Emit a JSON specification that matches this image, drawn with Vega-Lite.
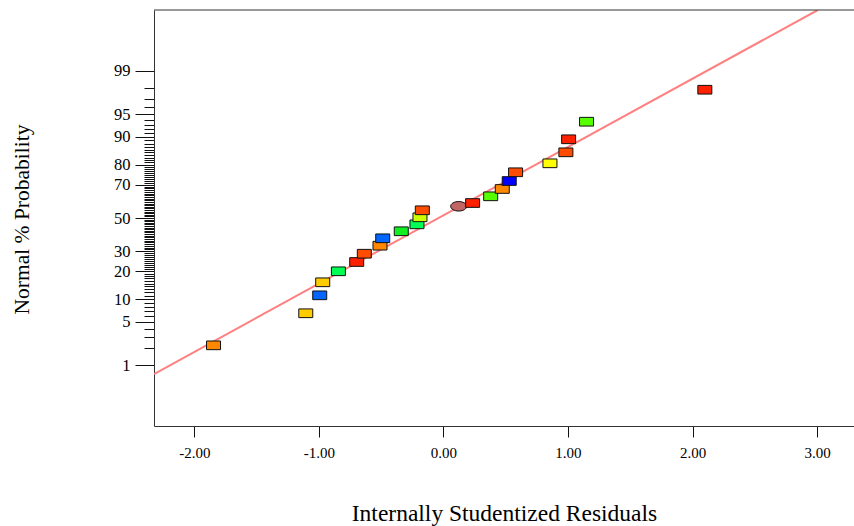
{
  "$schema": "https://vega.github.io/schema/vega-lite/v6.json",
  "width": 700,
  "height": 416,
  "autosize": {"type": "none"},
  "padding": {"left": 154, "top": 10, "right": 0, "bottom": 100},
  "background": "white",
  "config": {
    "view": {"stroke": null},
    "font": "Liberation Serif",
    "axis": {"grid": false, "labelFont": "Liberation Serif", "titleFont": "Liberation Serif", "labelColor": "#000", "titleColor": "#000", "titleFontWeight": "normal", "domainColor": "#333", "tickColor": "#111", "labelFlush": false, "labelOverlap": false, "labelBound": false}
  },
  "datasets": {
    "residuals": [
      {"run": 1, "residual": -1.847, "z": -2.014, "level": "orange"},
      {"run": 2, "residual": -1.106, "z": -1.507, "level": "gold"},
      {"run": 3, "residual": -0.994, "z": -1.223, "level": "blue"},
      {"run": 4, "residual": -0.970, "z": -1.017, "level": "gold"},
      {"run": 5, "residual": -0.844, "z": -0.843, "level": "green"},
      {"run": 6, "residual": -0.697, "z": -0.696, "level": "red"},
      {"run": 7, "residual": -0.636, "z": -0.565, "level": "red-orange"},
      {"run": 8, "residual": -0.510, "z": -0.438, "level": "orange"},
      {"run": 9, "residual": -0.488, "z": -0.321, "level": "blue"},
      {"run": 10, "residual": -0.339, "z": -0.210, "level": "green2"},
      {"run": 11, "residual": -0.213, "z": -0.100, "level": "green"},
      {"run": 12, "residual": -0.189, "z": 0.011, "level": "yellow-green"},
      {"run": 13, "residual": -0.170, "z": 0.122, "level": "red-orange"},
      {"run": 14, "residual": 0.122, "z": 0.185, "level": "highlight"},
      {"run": 15, "residual": 0.234, "z": 0.237, "level": "red"},
      {"run": 16, "residual": 0.379, "z": 0.343, "level": "lime"},
      {"run": 17, "residual": 0.472, "z": 0.459, "level": "orange"},
      {"run": 18, "residual": 0.528, "z": 0.585, "level": "darkblue"},
      {"run": 19, "residual": 0.579, "z": 0.723, "level": "red-orange"},
      {"run": 20, "residual": 0.855, "z": 0.865, "level": "yellow"},
      {"run": 21, "residual": 0.983, "z": 1.039, "level": "red-orange"},
      {"run": 22, "residual": 1.005, "z": 1.245, "level": "red"},
      {"run": 23, "residual": 1.149, "z": 1.523, "level": "lime"},
      {"run": 24, "residual": 2.099, "z": 2.029, "level": "red"}
    ],
    "fit": [
      {"xa": -2.325, "za": -2.468, "xb": 3.006, "zb": 3.29}
    ],
    "frame": [
      {"top": 3.29}
    ]
  },
  "layer": [
    {
      "data": {"name": "fit"},
      "mark": {"type": "rule", "color": "#ff8080", "strokeWidth": 2, "clip": true},
      "encoding": {
        "x": {"field": "xa", "type": "quantitative", "scale": {"domain": [-2.325, 3.297], "nice": false, "zero": false},
          "axis": {"values": [-2, -1, 0, 1, 2, 3], "tickCount": 500, "labelExpr": "replace(format(datum.value, '.2f'), '\u2212', '-')", "labelFontSize": 15, "tickSize": 11, "labelPadding": 8, "title": "Internally Studentized Residuals", "titleFontSize": 23.5, "titleBaseline": "alphabetic", "titleY": 94}},
        "y": {"field": "za", "type": "quantitative", "scale": {"domain": [-3.29, 3.29], "nice": false, "zero": false},
          "axis": {
            "values": [-2.3263, -2.0537, -1.8808, -1.7507, -1.6449, -1.5548, -1.4758, -1.4051, -1.3408, -1.2816, -1.2265, -1.175, -1.1264, -1.0803, -1.0364, -0.9945, -0.9542, -0.9154, -0.8779, -0.8416, -0.8064, -0.7722, -0.7388, -0.7063, -0.6745, -0.6433, -0.6128, -0.5828, -0.5534, -0.5244, -0.4959, -0.4677, -0.4399, -0.4125, -0.3853, -0.3585, -0.3319, -0.3055, -0.2793, -0.2533, -0.2275, -0.2019, -0.1764, -0.151, -0.1257, -0.1004, -0.0753, -0.0502, -0.0251, 0, 0.0251, 0.0502, 0.0753, 0.1004, 0.1257, 0.151, 0.1764, 0.2019, 0.2275, 0.2533, 0.2793, 0.3055, 0.3319, 0.3585, 0.3853, 0.4125, 0.4399, 0.4677, 0.4959, 0.5244, 0.5534, 0.5828, 0.6128, 0.6433, 0.6745, 0.7063, 0.7388, 0.7722, 0.8064, 0.8416, 0.8779, 0.9154, 0.9542, 0.9945, 1.0364, 1.0803, 1.1264, 1.175, 1.2265, 1.2816, 1.3408, 1.4051, 1.4758, 1.5548, 1.6449, 1.7507, 1.8808, 2.0537, 2.3263],
            "tickCount": 500,
            "labelExpr": "indexof([1,5,10,20,30,50,70,80,90,95,99], round(100*cumulativeNormal(datum.value))) >= 0 ? '' + round(100*cumulativeNormal(datum.value)) : ''",
            "tickSize": {"condition": {"test": "indexof([1,5,10,20,30,50,70,80,90,95,99], round(100*cumulativeNormal(datum.value))) >= 0", "value": 19}, "value": 10},
            "labelFontSize": 16.5,
            "labelPadding": 5,
            "title": "Normal % Probability",
            "titleFontSize": 21.5,
            "titleAngle": 270,
            "titleAlign": "center",
            "titleBaseline": "middle",
            "titleX": -132,
            "titleY": 209
          }},
        "x2": {"field": "xb"},
        "y2": {"field": "zb"}
      }
    },
    {
      "data": {"name": "residuals"},
      "mark": {"type": "point", "filled": true, "opacity": 1, "stroke": "#111", "strokeWidth": 1, "size": 196},
      "encoding": {
        "x": {"field": "residual", "type": "quantitative"},
        "y": {"field": "z", "type": "quantitative"},
        "color": {"field": "level", "type": "nominal", "legend": null,
          "scale": {"domain": ["red", "red-orange", "orange", "gold", "yellow", "yellow-green", "lime", "green", "green2", "blue", "darkblue", "highlight"],
                    "range": ["#ff2000", "#ff4c00", "#ff8800", "#ffcc00", "#ffff00", "#ccff00", "#55ff00", "#00ff55", "#11ee22", "#0066ff", "#0000ff", "#c06464"]}},
        "shape": {"field": "level", "type": "nominal", "legend": null,
          "scale": {"domain": ["red", "red-orange", "orange", "gold", "yellow", "yellow-green", "lime", "green", "green2", "blue", "darkblue", "highlight"],
                    "range": ["M-1,-0.62L1,-0.62L1,0.62L-1,0.62Z", "M-1,-0.62L1,-0.62L1,0.62L-1,0.62Z", "M-1,-0.62L1,-0.62L1,0.62L-1,0.62Z", "M-1,-0.62L1,-0.62L1,0.62L-1,0.62Z", "M-1,-0.62L1,-0.62L1,0.62L-1,0.62Z", "M-1,-0.62L1,-0.62L1,0.62L-1,0.62Z", "M-1,-0.62L1,-0.62L1,0.62L-1,0.62Z", "M-1,-0.62L1,-0.62L1,0.62L-1,0.62Z", "M-1,-0.62L1,-0.62L1,0.62L-1,0.62Z", "M-1,-0.62L1,-0.62L1,0.62L-1,0.62Z", "M-1,-0.62L1,-0.62L1,0.62L-1,0.62Z", "M-1.15,0A1.15,0.68 0 1,0 1.15,0A1.15,0.68 0 1,0 -1.15,0Z"]}}
      }
    },
    {
      "data": {"name": "frame"},
      "mark": {"type": "rule", "color": "#333", "strokeWidth": 1},
      "encoding": {
        "y": {"field": "top", "type": "quantitative"}
      }
    }
  ]
}
